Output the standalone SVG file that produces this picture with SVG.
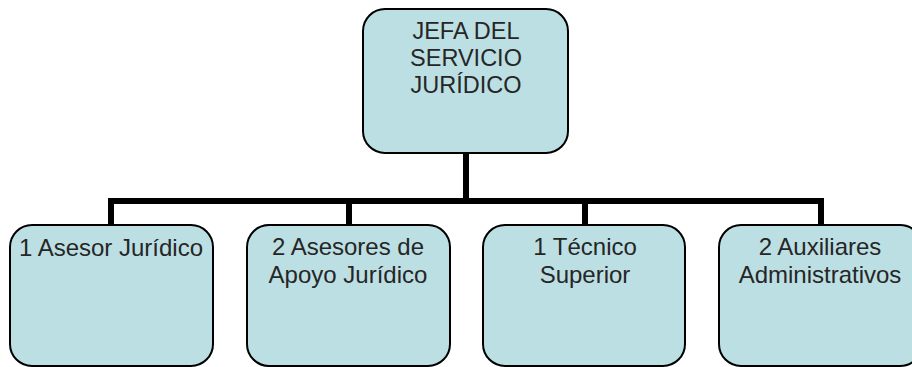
<svg xmlns="http://www.w3.org/2000/svg" width="912" height="367" viewBox="0 0 912 367">
<style>
.box{fill:#BCDFE3;stroke:#000;stroke-width:2}
.t{font-family:"Liberation Sans",Arial,sans-serif;font-size:24px;fill:#262626;text-anchor:middle}
.tt{font-size:23.5px}
.c{fill:none;stroke:#000;stroke-width:6;stroke-linecap:butt;stroke-linejoin:miter}
</style>
<rect width="912" height="367" fill="#fff"/>
<g id="connectors">
<path class="c" d="M466,153 V201"/>
<path class="c" d="M111,225 V201 H821 V225"/>
<path class="c" d="M349,201 V225"/>
<path class="c" d="M585,201 V225"/>
</g>
<g id="jefa">
<rect class="box" x="363" y="9" width="205" height="144" rx="22"/>
<text class="t tt" x="466" y="39">JEFA DEL</text>
<text class="t tt" x="466" y="66">SERVICIO</text>
<text class="t tt" x="466" y="93">JURÍDICO</text>
</g>
<g id="asesor">
<rect class="box" x="10" y="225" width="203" height="141" rx="22"/>
<text class="t" x="111" y="256">1 Asesor Jurídico</text>
</g>
<g id="asesores">
<rect class="box" x="247" y="225" width="203" height="141" rx="22"/>
<text class="t" x="348" y="255">2 Asesores de</text>
<text class="t" x="348" y="283">Apoyo Jurídico</text>
</g>
<g id="tecnico">
<rect class="box" x="483" y="225" width="202" height="141" rx="22"/>
<text class="t" x="585" y="255">1 Técnico</text>
<text class="t" x="585" y="283">Superior</text>
</g>
<g id="auxiliares">
<rect class="box" x="719" y="225" width="203" height="141" rx="22"/>
<text class="t" x="820" y="255">2 Auxiliares</text>
<text class="t" x="820" y="283">Administrativos</text>
</g>
</svg>
